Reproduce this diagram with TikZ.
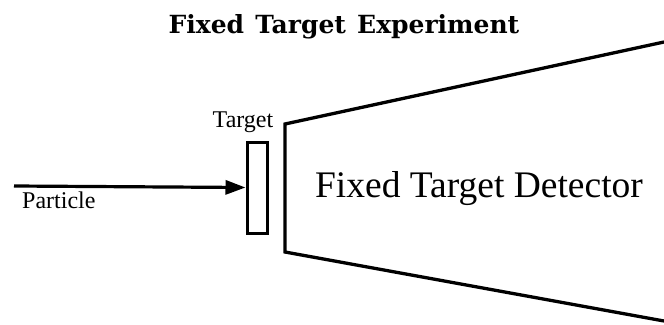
\documentclass[tikz,border=0pt]{standalone}
\usepackage{fontspec}
\setmainfont{Liberation Serif}
\newfontfamily\titlefont{DejaVu Serif}
\usetikzlibrary{arrows.meta}
\tikzset{
  thick line/.style={line width=3.3pt},
  lbl/.style={inner sep=0pt, font=\fontsize{24}{27}\selectfont},
}
\begin{document}
\begin{tikzpicture}[x=1pt,y=-1pt]
\useasboundingbox (0,0) rectangle (664,324);
% title
\node[inner sep=0pt, anchor=base, font=\titlefont\bfseries\fontsize{25}{28}\selectfont] (title) at (344,33) {Fixed\hspace{0.45em}Target\hspace{0.45em}Experiment};
% target
\node[draw, line width=3pt, minimum width=20pt, minimum height=91pt, inner sep=0pt] (target) at (257,187.5) {};
\node[lbl, anchor=base] (tlabel) at (243,127) {Target};
% particle
\coordinate (pstart) at (14,186);
\draw[line width=3.2pt, -{Triangle[length=20pt,width=14pt]}] (pstart) -- (target.west);
\node[lbl, anchor=base west] (plabel) at (22,208) {Particle};
% detector
\coordinate (d1) at (664,42);
\coordinate (d2) at (285,124);
\coordinate (d3) at (285,252);
\coordinate (d4) at (664,321);
\draw[thick line, line join=miter] (d1) -- (d2) -- (d3) -- (d4);
\node[inner sep=0pt, anchor=base, font=\fontsize{37.5}{40}\selectfont] (det) at (479,197) {Fixed Target Detector};
\end{tikzpicture}
\end{document}
